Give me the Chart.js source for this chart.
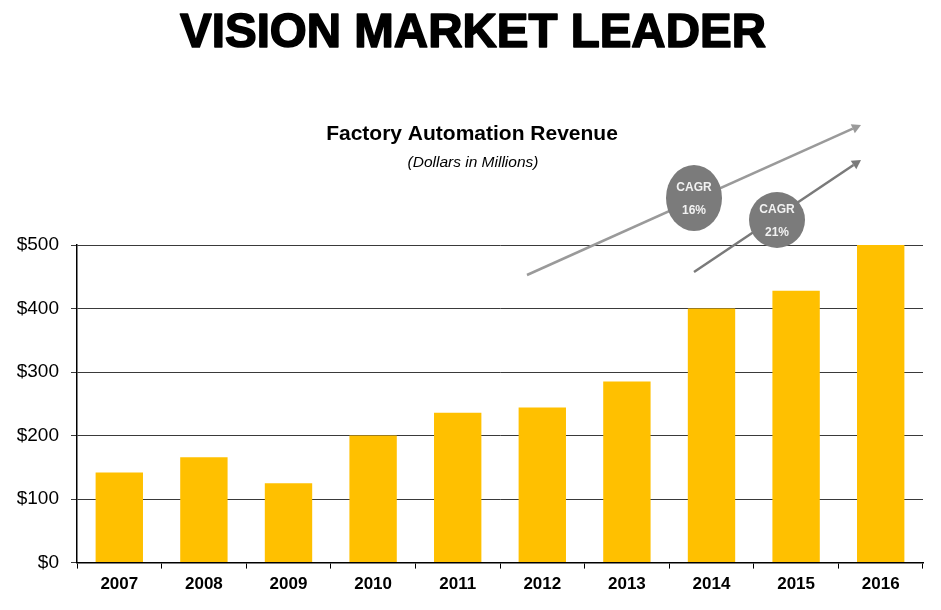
<!DOCTYPE html>
<html>
<head>
<meta charset="utf-8">
<script src="https://cdn.jsdelivr.net/npm/chart.js@4/dist/chart.umd.min.js"></script>
<style>
  html, body { margin: 0; padding: 0; background: #fff; }
  #wrap { width: 941px; height: 610px; position: relative; }
</style>
</head>
<body>
<div id="wrap"><canvas id="revChart"></canvas></div>
<script>
// data
const years = ['2007', '2008', '2009', '2010', '2011', '2012', '2013', '2014', '2015', '2016'];
const revenue = [142, 166, 125, 200, 236, 244, 285, 400, 428, 500];
const yTicks = [0, 100, 200, 300, 400, 500];
const cagrLabels = ['16%', '21%'];

// titles + CAGR bubbles, drawn on top of the chart
const decorations = {
  id: 'decorations',
  afterDraw(chart) {
    const ctx = chart.ctx;
    ctx.save();
    ctx.textAlign = 'center';
    ctx.textBaseline = 'alphabetic';

    ctx.fillStyle = '#000';
    ctx.strokeStyle = '#000';
    ctx.lineWidth = 1.6;
    ctx.lineJoin = 'round';
    ctx.font = 'bold 47.5px "Liberation Sans", Arial, sans-serif';
    ctx.fillText('VISION MARKET LEADER', 473, 47);
    ctx.strokeText('VISION MARKET LEADER', 473, 47);

    ctx.font = 'bold 21px "Liberation Sans", Arial, sans-serif';
    ctx.fillText('Factory Automation Revenue', 472, 140);
    ctx.font = 'italic 15.5px "Liberation Sans", Arial, sans-serif';
    ctx.fillText('(Dollars in Millions)', 473, 167);

    // arrows
    const arrow = (x1, y1, x2, y2, col) => {
      ctx.strokeStyle = col;
      ctx.fillStyle = col;
      ctx.lineWidth = 2.5;
      const a = Math.atan2(y2 - y1, x2 - x1);
      const hx = x2 - 9 * Math.cos(a), hy = y2 - 9 * Math.sin(a);
      ctx.beginPath();
      ctx.moveTo(x1, y1);
      ctx.lineTo(hx, hy);
      ctx.stroke();
      ctx.beginPath();
      ctx.moveTo(x2, y2);
      ctx.lineTo(hx + 5 * Math.sin(a), hy - 5 * Math.cos(a));
      ctx.lineTo(hx - 5 * Math.sin(a), hy + 5 * Math.cos(a));
      ctx.closePath();
      ctx.fill();
    };
    arrow(527, 275, 861, 125, '#9a9a9a');
    arrow(694, 272, 861, 160, '#7a7a7a');

    // bubbles
    const bubble = (cx, cy, rx, ry, pct) => {
      ctx.fillStyle = '#7b7b7b';
      ctx.beginPath();
      ctx.ellipse(cx, cy, rx, ry, 0, 0, Math.PI * 2);
      ctx.fill();
      ctx.fillStyle = '#f2f2f2';
      ctx.font = 'bold 12px "Liberation Sans", Arial, sans-serif';
      ctx.fillText('CAGR', cx, cy - 7);
      ctx.fillText(pct, cx, cy + 16);
    };
    bubble(694, 198, 28, 33, cagrLabels[0]);
    bubble(777, 220, 28, 28, cagrLabels[1]);

    ctx.restore();
  }
};

new Chart(document.getElementById('revChart'), {
  type: 'bar',
  data: {
    labels: years,
    datasets: [{
      data: revenue,
      backgroundColor: '#ffc000',
      borderWidth: 0,
      barPercentage: 0.56,
      categoryPercentage: 1
    }]
  },
  options: {
    responsive: true,
    maintainAspectRatio: false,
    animation: false,
    layout: { padding: { top: 245, right: 18, bottom: 9, left: 0 } },
    plugins: {
      legend: { display: false },
      tooltip: { enabled: false }
    },
    scales: {
      y: {
        min: 0,
        max: 500,
        afterFit(s) { s.width = 77; },
        afterBuildTicks(s) { s.ticks = yTicks.map(v => ({ value: v })); },
        ticks: {
          callback: v => '$' + v,
          color: '#000',
          padding: 12,
          font: { family: '"Liberation Sans", Arial, sans-serif', size: 19 }
        },
        grid: { color: '#3a3a3a', tickLength: 6, lineWidth: 1 },
        border: { color: '#000', width: 1.5 }
      },
      x: {
        ticks: {
          color: '#000',
          padding: 6,
          font: { family: '"Liberation Sans", Arial, sans-serif', size: 17, weight: 'bold' }
        },
        grid: { drawOnChartArea: false, offset: true, tickLength: 6, color: '#000' },
        border: { color: '#000', width: 1.5 }
      }
    }
  },
  plugins: [decorations]
});
</script>
</body>
</html>
